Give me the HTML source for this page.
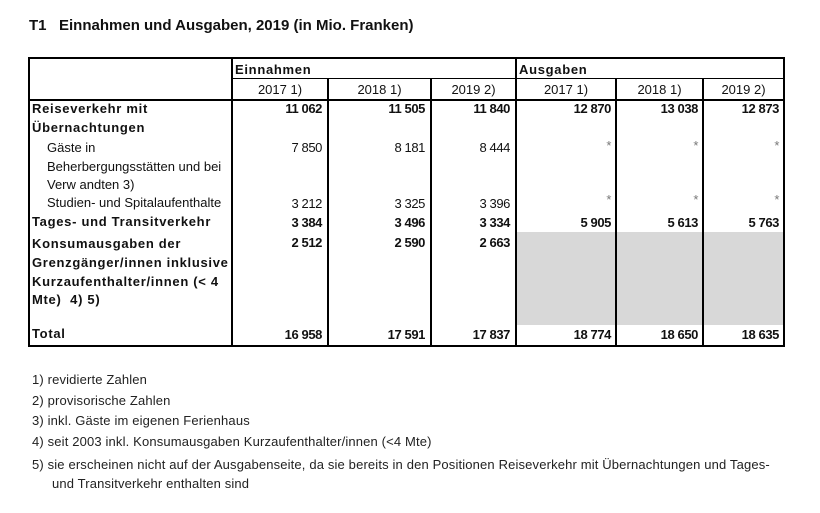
<!DOCTYPE html>
<html><head><meta charset="utf-8"><style>
body{margin:0;width:820px;height:513px;background:#fff;position:relative;font-family:"Liberation Sans",Arial,sans-serif;color:#111;overflow:hidden}
.t{position:absolute;white-space:nowrap;font-size:13px;line-height:15px}
.b{font-weight:bold}
.ls{letter-spacing:0.7px}
.n{position:absolute;white-space:nowrap;font-size:13px;line-height:15px;text-align:right;font-weight:bold;letter-spacing:-0.4px}
.h{position:absolute;background:#000}
.g{position:absolute;background:#d8d8d8}
.c{position:absolute;text-align:center;font-size:13px;line-height:15px}
.f{position:absolute;font-size:13px;line-height:15px;white-space:nowrap;color:#222;letter-spacing:0.15px}
</style></head><body>
<div class="t b" style="left:29px;top:17px;font-size:15px;line-height:18px">T1&nbsp;&nbsp;&nbsp;Einnahmen und Ausgaben, 2019 (in Mio. Franken)</div>

<div class="g" style="left:517px;top:232px;width:267px;height:93px"></div>

<div class="h" style="left:28px;top:57px;width:757px;height:2px"></div>
<div class="h" style="left:232px;top:78px;width:553px;height:1px"></div>
<div class="h" style="left:28px;top:99px;width:757px;height:2px"></div>
<div class="h" style="left:28px;top:345px;width:757px;height:2px"></div>
<div class="h" style="left:28px;top:57px;width:2px;height:290px"></div>
<div class="h" style="left:231px;top:57px;width:2px;height:290px"></div>
<div class="h" style="left:327px;top:79px;width:2px;height:268px"></div>
<div class="h" style="left:430px;top:79px;width:2px;height:268px"></div>
<div class="h" style="left:515px;top:57px;width:2px;height:290px"></div>
<div class="h" style="left:615px;top:79px;width:2px;height:268px"></div>
<div class="h" style="left:702px;top:79px;width:2px;height:268px"></div>
<div class="h" style="left:783px;top:57px;width:2px;height:290px"></div>

<div class="t b ls" style="left:235px;top:62px">Einnahmen</div>
<div class="t b ls" style="left:519px;top:62px">Ausgaben</div>
<div class="c" style="left:233px;width:94px;top:82px">2017 1)</div>
<div class="c" style="left:329px;width:101px;top:82px">2018 1)</div>
<div class="c" style="left:432px;width:83px;top:82px">2019 2)</div>
<div class="c" style="left:517px;width:98px;top:82px">2017 1)</div>
<div class="c" style="left:617px;width:85px;top:82px">2018 1)</div>
<div class="c" style="left:704px;width:79px;top:82px">2019 2)</div>

<div class="t b ls" style="left:32px;top:101px">Reiseverkehr mit</div>
<div class="t b ls" style="left:32px;top:120px">Übernachtungen</div>
<div class="t" style="left:47px;top:140px">Gäste in</div>
<div class="t" style="left:47px;top:159px">Beherbergungsstätten und bei</div>
<div class="t" style="left:47px;top:177px">Verw andten 3)</div>
<div class="t" style="left:47px;top:195px">Studien- und Spitalaufenthalte</div>
<div class="t b ls" style="left:32px;top:214px">Tages- und Transitverkehr</div>
<div class="t b ls" style="left:32px;top:236px">Konsumausgaben der</div>
<div class="t b ls" style="left:32px;top:255px">Grenzgänger/innen inklusive</div>
<div class="t b ls" style="left:32px;top:274px">Kurzaufenthalter/innen (&lt; 4</div>
<div class="t b ls" style="left:32px;top:292px">Mte)&nbsp; 4) 5)</div>
<div class="t b ls" style="left:32px;top:326px">Total</div>

<div class="n" style="right:498px;top:101px">11 062</div>
<div class="n" style="right:395px;top:101px">11 505</div>
<div class="n" style="right:310px;top:101px">11 840</div>
<div class="n" style="right:209px;top:101px">12 870</div>
<div class="n" style="right:122px;top:101px">13 038</div>
<div class="n" style="right:41px;top:101px">12 873</div>

<div class="n" style="right:498px;top:140px;font-weight:normal">7 850</div>
<div class="n" style="right:395px;top:140px;font-weight:normal">8 181</div>
<div class="n" style="right:310px;top:140px;font-weight:normal">8 444</div>
<div class="n" style="right:209px;top:138px;font-weight:normal;color:#777">*</div>
<div class="n" style="right:122px;top:138px;font-weight:normal;color:#777">*</div>
<div class="n" style="right:41px;top:138px;font-weight:normal;color:#777">*</div>

<div class="n" style="right:498px;top:196px;font-weight:normal">3 212</div>
<div class="n" style="right:395px;top:196px;font-weight:normal">3 325</div>
<div class="n" style="right:310px;top:196px;font-weight:normal">3 396</div>
<div class="n" style="right:209px;top:192px;font-weight:normal;color:#777">*</div>
<div class="n" style="right:122px;top:192px;font-weight:normal;color:#777">*</div>
<div class="n" style="right:41px;top:192px;font-weight:normal;color:#777">*</div>

<div class="n" style="right:498px;top:215px">3 384</div>
<div class="n" style="right:395px;top:215px">3 496</div>
<div class="n" style="right:310px;top:215px">3 334</div>
<div class="n" style="right:209px;top:215px">5 905</div>
<div class="n" style="right:122px;top:215px">5 613</div>
<div class="n" style="right:41px;top:215px">5 763</div>

<div class="n" style="right:498px;top:235px">2 512</div>
<div class="n" style="right:395px;top:235px">2 590</div>
<div class="n" style="right:310px;top:235px">2 663</div>

<div class="n" style="right:498px;top:327px">16 958</div>
<div class="n" style="right:395px;top:327px">17 591</div>
<div class="n" style="right:310px;top:327px">17 837</div>
<div class="n" style="right:209px;top:327px">18 774</div>
<div class="n" style="right:122px;top:327px">18 650</div>
<div class="n" style="right:41px;top:327px">18 635</div>

<div class="f" style="left:32px;top:372px">1) revidierte Zahlen</div>
<div class="f" style="left:32px;top:393px">2) provisorische Zahlen</div>
<div class="f" style="left:32px;top:413px">3) inkl. Gäste im eigenen Ferienhaus</div>
<div class="f" style="left:32px;top:434px">4) seit 2003 inkl. Konsumausgaben Kurzaufenthalter/innen (&lt;4 Mte)</div>
<div class="f" style="left:32px;top:457px">5) sie erscheinen nicht auf der Ausgabenseite, da sie bereits in den Positionen Reiseverkehr mit Übernachtungen und Tages-</div>
<div class="f" style="left:52px;top:476px">und Transitverkehr enthalten sind</div>
</body></html>
